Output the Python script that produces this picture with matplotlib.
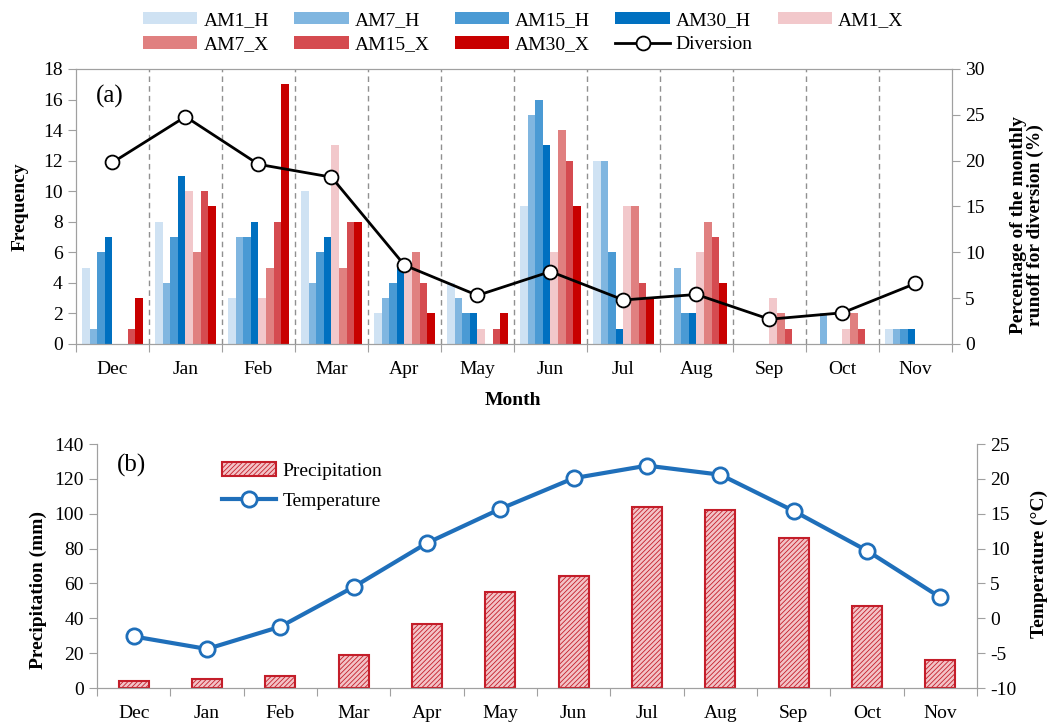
import numpy as np
import matplotlib.pyplot as plt

plt.rcParams['font.family'] = ['Liberation Serif', 'DejaVu Serif']
plt.rcParams['axes.unicode_minus'] = False
plt.rcParams['hatch.linewidth'] = 0.6

months = ['Dec', 'Jan', 'Feb', 'Mar', 'Apr', 'May', 'Jun', 'Jul', 'Aug', 'Sep', 'Oct', 'Nov']

# (a) frequency of annual maxima per month
am1_h = [5, 8, 3, 10, 2, 4, 9, 12, 0, 0, 0, 1]
am7_h = [1, 4, 7, 4, 3, 3, 15, 12, 5, 0, 2, 1]
am15_h = [6, 7, 7, 6, 4, 2, 16, 6, 2, 0, 0, 1]
am30_h = [7, 11, 8, 7, 5, 2, 13, 1, 2, 0, 0, 1]
am1_x = [0, 10, 3, 13, 5, 1, 6, 9, 6, 3, 1, 0]
am7_x = [0, 6, 5, 5, 6, 0, 14, 9, 8, 2, 2, 0]
am15_x = [1, 10, 8, 8, 4, 1, 12, 4, 7, 1, 1, 0]
am30_x = [3, 9, 17, 8, 2, 2, 9, 3, 4, 0, 0, 0]
diversion = [19.8, 24.8, 19.6, 18.2, 8.6, 5.3, 7.9, 4.8, 5.4, 2.7, 3.4, 6.6]

# (b) climate
precip = [4, 5, 7, 19, 37, 55, 64, 104, 102, 86, 47, 16]
temperature = [-2.6, -4.4, -1.2, 4.5, 10.8, 15.7, 20.1, 21.9, 20.6, 15.4, 9.7, 3.0]

series = [
    ('AM1_H', am1_h, '#cfe2f3'),
    ('AM7_H', am7_h, '#80b6e0'),
    ('AM15_H', am15_h, '#4a9ad4'),
    ('AM30_H', am30_h, '#0070c0'),
    ('AM1_X', am1_x, '#f2c8cb'),
    ('AM7_X', am7_x, '#e08080'),
    ('AM15_X', am15_x, '#d54b50'),
    ('AM30_X', am30_x, '#c80000'),
]

spine_col = '#a0a0a0'
fs = 14

fig = plt.figure(figsize=(10.51, 7.24), dpi=100)

# ---------- panel (a) ----------
ax1 = fig.add_axes([0.0723, 0.5249, 0.8335, 0.3798])
x = np.arange(12) + 0.5
w = 0.104
handles = {}
for i, (name, vals, c) in enumerate(series):
    b = ax1.bar(x + (i - 3.5) * w, vals, w, color=c, label=name, zorder=2)
    handles[name] = b
for bnd in range(1, 12):
    ax1.axvline(bnd, color='#909090', ls=(0, (4, 3)), lw=1, zorder=1)
ax1.set_xlim(0, 12)
ax1.set_ylim(0, 18)
ax1.set_yticks(range(0, 19, 2))
ax1.set_xticks(range(13))
ax1.set_xticklabels([])
ax1.set_xticks(x, minor=True)
ax1.set_xticklabels(months, minor=True)
ax1.tick_params(axis='x', which='minor', length=0, pad=12, labelsize=fs)
ax1.tick_params(axis='x', which='major', length=6, color=spine_col)
ax1.tick_params(axis='y', length=6, color=spine_col, labelsize=fs)
ax1.set_ylabel('Frequency', fontsize=fs, fontweight='bold', va='center', ha='center')
ax1.yaxis.set_label_coords(-0.064, 0.5)
ax1.set_xlabel('Month', fontsize=fs, fontweight='bold', va='center', ha='center')
ax1.xaxis.set_label_coords(0.499, -0.204)
ax1.text(0.039, 0.90, '(a)', transform=ax1.transAxes, fontsize=18, ha='center', va='center')

ax1r = ax1.twinx()
line_div, = ax1r.plot(x, diversion, '-o', color='black', lw=2, ms=10, mfc='white',
                      mec='black', mew=1.3, label='Diversion')
ax1r.set_ylim(0, 30)
ax1r.set_yticks(range(0, 31, 5))
ax1r.tick_params(axis='y', length=6, color=spine_col, labelsize=fs)
ax1r.set_ylabel('Percentage of the monthly\nrunoff for diversion (%)', fontsize=fs,
                fontweight='bold', linespacing=1.0, va='center', ha='center')
ax1r.yaxis.set_label_coords(1.0855, 0.433)
for a in (ax1, ax1r):
    for s in a.spines.values():
        s.set_color(spine_col)

# legend above panel (a), row-major order
order = ['AM1_H', 'AM7_X', 'AM7_H', 'AM15_X', 'AM15_H', 'AM30_X', 'AM30_H', 'Diversion', 'AM1_X']
hs = [line_div if n == 'Diversion' else handles[n] for n in order]
fig.legend(hs, order, ncol=5, loc='upper left', bbox_to_anchor=(0.125, 1.0),
           frameon=False, fontsize=fs, handlelength=2.8, handleheight=0.6,
           handletextpad=0.3, columnspacing=1.3, labelspacing=0.4, borderpad=0.1)

# ---------- panel (b) ----------
ax2 = fig.add_axes([0.0923, 0.0497, 0.8373, 0.337])
bars = ax2.bar(x, precip, 0.41, facecolor='#f3c3c7', edgecolor='#c41e2a', hatch='///////',
               lw=1.5, label='Precipitation')
ax2.set_xlim(0, 12)
ax2.set_ylim(0, 140)
ax2.set_yticks(range(0, 141, 20))
ax2.set_xticks(range(13))
ax2.set_xticklabels([])
ax2.set_xticks(x, minor=True)
ax2.set_xticklabels(months, minor=True)
ax2.tick_params(axis='x', which='minor', length=0, pad=12, labelsize=fs)
ax2.tick_params(axis='x', which='major', length=6, color=spine_col)
ax2.tick_params(axis='y', length=6, color=spine_col, labelsize=fs)
ax2.set_ylabel('Precipitation (mm)', fontsize=fs, fontweight='bold', va='center', ha='center')
ax2.yaxis.set_label_coords(-0.067, 0.40)
ax2.text(0.039, 0.914, '(b)', transform=ax2.transAxes, fontsize=18, ha='center', va='center')

ax2r = ax2.twinx()
line_t, = ax2r.plot(x, temperature, '-o', color='#1f6fba', lw=3, ms=11, mfc='white',
                    mec='#1f6fba', mew=2, label='Temperature')
ax2r.set_ylim(-10, 25)
ax2r.set_yticks(range(-10, 26, 5))
ax2r.tick_params(axis='y', length=6, color=spine_col, labelsize=fs)
ax2r.set_ylabel('Temperature (\u00b0C)', fontsize=fs, fontweight='bold', va='center', ha='center')
ax2r.yaxis.set_label_coords(1.071, 0.508)
for a in (ax2, ax2r):
    a.spines['top'].set_visible(False)
    for s in a.spines.values():
        s.set_color(spine_col)

ax2r.legend([bars, line_t], ['Precipitation', 'Temperature'], loc='upper left',
            bbox_to_anchor=(0.142, 0.925), frameon=False, fontsize=fs,
            handlelength=2.8, handleheight=0.7, handletextpad=0.3, labelspacing=0.65,
            borderpad=0, borderaxespad=0)

fig.savefig('out.png', dpi=100)
